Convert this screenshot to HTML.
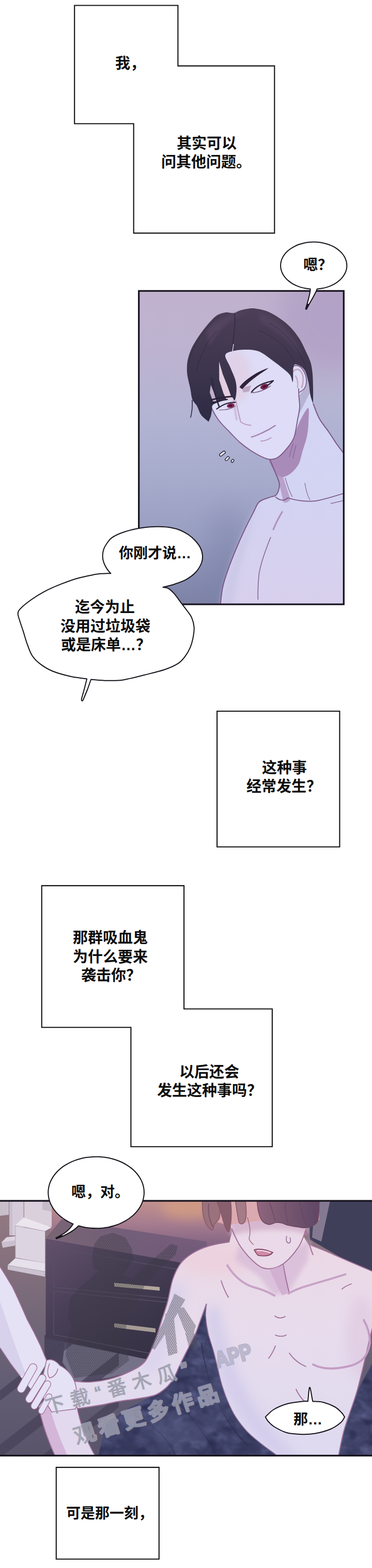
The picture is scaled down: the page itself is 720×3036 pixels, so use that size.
<!DOCTYPE html>
<html><head><meta charset="utf-8"><title>page</title>
<style>html,body{margin:0;padding:0;background:#fff;font-family:"Liberation Sans",sans-serif}svg{display:block}</style></head><body>
<svg width="720" height="3036" viewBox="0 0 720 3036">
<rect width="720" height="3036" fill="#fff"/>
<path fill="#fff" stroke="#111" stroke-width="2.1" stroke-linejoin="miter" d="M144.2 10.5H344.4V127.6H531.3V451.4H258.7V239.5H144.2Z"/>
<path fill="#fff" stroke="#111" stroke-width="2.1" stroke-linejoin="miter" d="M420.1 1377H657.4V1639.7H420.1Z"/>
<path fill="#fff" stroke="#111" stroke-width="2.1" stroke-linejoin="miter" d="M80.75 1714.9H356.1V1953.5H526.9V2220.3H253.4V1989.2H80.75Z"/>
<path fill="#fff" stroke="#111" stroke-width="2.1" stroke-linejoin="miter" d="M108.8 2841.1H307.8V3018.7H108.8Z"/>
<defs>
<clipPath id="c1"><rect x="268" y="562.5" width="398" height="608.5"/></clipPath>
<linearGradient id="p1bg" x1="0" y1="0" x2="0" y2="1">
<stop offset="0" stop-color="#c0b2ce"/><stop offset="0.2" stop-color="#bdb3d0"/><stop offset="0.4" stop-color="#b3b4d3"/><stop offset="0.6" stop-color="#a6abcc"/><stop offset="0.8" stop-color="#979dc0"/><stop offset="0.93" stop-color="#848aae"/><stop offset="1" stop-color="#7c81a5"/></linearGradient>
<linearGradient id="p1hair" x1="0" y1="0" x2="0" y2="1">
<stop offset="0" stop-color="#4c3f57"/><stop offset="0.55" stop-color="#3d354d"/><stop offset="1" stop-color="#2d2a44"/></linearGradient>
<linearGradient id="p1skin" x1="0" y1="0" x2="0" y2="1">
<stop offset="0" stop-color="#d4d5f4"/><stop offset="0.5" stop-color="#d3d3f2"/><stop offset="1" stop-color="#d8d0ec"/></linearGradient>
<filter id="b6" x="-30%" y="-30%" width="160%" height="160%"><feGaussianBlur stdDeviation="6"/></filter>
<filter id="b12" x="-30%" y="-30%" width="160%" height="160%"><feGaussianBlur stdDeviation="12"/></filter>
<filter id="b25" x="-50%" y="-50%" width="200%" height="200%"><feGaussianBlur stdDeviation="25"/></filter>
<filter id="b3" x="-30%" y="-30%" width="160%" height="160%"><feGaussianBlur stdDeviation="3"/></filter>
</defs>
<g clip-path="url(#c1)">
<rect x="266" y="560" width="402" height="613" fill="url(#p1bg)"/>
<ellipse cx="640" cy="610" rx="100" ry="110" fill="#ae9cc3" opacity="0.7" filter="url(#b25)"/>
<ellipse cx="440" cy="1090" rx="40" ry="110" fill="#7a7fa6" opacity="0.45" filter="url(#b25)"/>
<path d="M427 1180C427 1178 426.3 1175.1 427 1167.7C427.7 1160.3 428.8 1146.7 431.3 1135.7C433.8 1124.7 437.6 1113.8 441.9 1101.7C446.1 1089.7 451.5 1076.2 456.8 1063.4C462.1 1050.6 468.1 1037.1 473.8 1025.1C479.5 1013 486.3 1000 490.9 991.1C495.5 982.2 496.6 976.5 501.5 971.9C506.4 967.3 515.4 965.5 520.6 963.4C525.9 961.3 529.9 961.7 533 959.5C536.1 957.3 537.8 954 539 950C540.2 946 541.6 941.2 540.5 935.2C539.4 929.2 535.7 921.9 532.6 914.3C529.5 906.7 523.9 893.5 522.1 889.4L560 840L600 760L606 781.2C608 786 612.8 800.8 617.8 810C622.8 819.2 630.6 828 636.2 836.2C641.8 844.4 646.9 852.8 651.4 859.3C655.9 865.8 658.4 869 663.2 875C668 881 677.2 891.7 680 895L680 1180Z" fill="url(#p1skin)"/>
<path d="M427 1180C432 1120 470 1030 500 975C470 1080 455 1130 450 1180Z" fill="#c9c6e6" opacity="0.8" filter="url(#b6)"/>
<path d="M520.5 889.4C521.4 883.1 535.3 885.6 541.4 881.5C547.5 877.4 552.3 871.3 557.1 864.5C561.9 857.7 566.3 849.1 570.2 840.9C574.1 832.6 576.3 823.5 580.7 815C585.1 806.5 593.7 789.2 596.4 790C599.1 790.8 597.4 810.6 597 820C596.6 829.4 595.6 837.5 593.8 846.2C591.9 854.9 588.5 863.7 585.9 872.4C583.3 881.1 582 891.2 578.1 898.6C574.2 906 568.1 912.5 562.4 916.9C556.7 921.2 548.4 924.3 544 924.7C539.6 925.1 540.1 925.4 536.2 919.5C532.3 913.6 519.6 895.7 520.5 889.4Z" fill="#a98bb9"/>
<path d="M536 920C540 940 546 955 548 972C553 975 560 972 562 966C556 950 552 935 548 924Z" fill="#b59cc6" opacity="0.9"/>
<path d="M427 1180C427 1178 426.3 1175.1 427 1167.7C427.7 1160.3 428.8 1146.7 431.3 1135.7C433.8 1124.7 437.6 1113.8 441.9 1101.7C446.1 1089.7 451.5 1076.2 456.8 1063.4C462.1 1050.6 468.1 1037.1 473.8 1025.1C479.5 1013 486.3 1000 490.9 991.1C495.5 982.2 496.6 976.5 501.5 971.9C506.4 967.3 515.4 965.5 520.6 963.4C525.9 961.3 529.9 961.7 533 959.5C536.1 957.3 537.8 954 539 950C540.2 946 541.6 941.2 540.5 935.2C539.4 929.2 535.7 921.9 532.6 914.3C529.5 906.7 523.9 893.5 522.1 889.4" fill="none" stroke="#7a5686" stroke-width="2"/>
<path d="M606 781.2C608 786 612.8 800.8 617.8 810C622.8 819.2 630.6 828 636.2 836.2C641.8 844.4 646.9 852.8 651.4 859.3C655.9 865.8 658.4 869 663.2 875C668 881 677.2 891.7 680 895" fill="none" stroke="#7a5686" stroke-width="2"/>
<path d="M533 962C540 968 548 972 557 964C570 968 590 973 614.7 969.3C635 965 650 960 666 955" fill="none" stroke="#7a5686" stroke-width="1.8"/>
<path d="M546.2 991.1C538 1005 533 1015 529.1 1025.1" fill="none" stroke="#b08fbb" stroke-width="3" stroke-linecap="round"/>
<path d="M524 1040C515 1062 505 1090 501.5 1110.2C499 1130 499 1150 499.4 1161.3" fill="none" stroke="#7a5686" stroke-width="1.6" opacity="0.85"/>
<path d="M552 925C556 940 560 952 566 962M590 935C592 948 594 958 600 968" fill="none" stroke="#7a5686" stroke-width="1.3" opacity="0.8"/>
<path d="M640 975L666 969" fill="none" stroke="#7a5686" stroke-width="1.5" opacity="0.8"/>
<path d="M568 858C564 868 562 876 560 885M573 862C570 872 568 880 567 888" fill="none" stroke="#7d5a8d" stroke-width="1.2" opacity="0.8"/>
<path d="M433 690C426.3 701.7 424.2 725.8 420 740C415.8 754.2 409.3 765.8 408 775C406.7 784.2 410 789.3 412 795C414 800.7 417.2 804.8 420 809C422.8 813.2 424.1 815.1 428.5 820C432.9 824.9 440.2 832.2 446.2 838.3C452.2 844.4 457.9 851 464.5 856.7C471.1 862.4 478.5 867.8 485.5 872.4C492.5 877 500.3 881.4 506.4 884.2C512.5 887 516.9 889.2 522.1 889.4C527.3 889.6 532.1 889.2 537.8 885.5C543.5 881.8 551 873.6 556.2 867.1C561.5 860.6 566 855.3 569.3 846.2C572.6 837.1 574.1 822.1 575.9 812.6C577.7 803.1 579.4 796.4 579.9 789C580.4 781.6 577.1 774.2 578.6 768.1C580.1 762 586.6 757.2 589 752.4C591.4 747.6 592.8 744.1 593 739.3C593.2 734.5 592.3 728.4 590.3 723.6C588.3 718.8 584.5 713.1 581.2 710.5C577.9 707.9 577.6 711.3 570.7 707.9C563.8 704.5 551.8 696.3 540 690C528.2 683.7 513.3 673.3 500 670C486.7 666.7 471.2 666.7 460 670C448.8 673.3 439.7 678.3 433 690Z" fill="#dedcf6"/>
<ellipse cx="455" cy="730" rx="30" ry="50" fill="#e2c9dc" opacity="0.55" filter="url(#b6)"/>
<path d="M566 722C570 714 578 713 583 720C588 728 588 740 584 750" fill="none" stroke="#c5a9c4" stroke-width="3" stroke-linecap="round"/>
<path d="M572 728C576 734 577 742 576 750" fill="none" stroke="#c5a9c4" stroke-width="2.5" stroke-linecap="round"/>
<path d="M407 783C407.8 785 409.8 790.7 412 795C414.2 799.3 417.2 804.8 420 809C422.8 813.2 424.1 815.1 428.5 820C432.9 824.9 440.2 832.2 446.2 838.3C452.2 844.4 457.9 851 464.5 856.7C471.1 862.4 478.5 867.8 485.5 872.4C492.5 877 500.3 881.4 506.4 884.2C512.5 887 516.9 889.2 522.1 889.4C527.3 889.6 532.1 889.2 537.8 885.5C543.5 881.8 551 873.6 556.2 867.1C561.5 860.6 566 855.3 569.3 846.2C572.6 837.1 574.1 822.1 575.9 812.6C577.7 803.1 579.4 796.4 579.9 789C580.4 781.6 578.9 774.3 578.6 768.1C578.3 761.9 578.1 754.7 578 752" fill="none" stroke="#7a5686" stroke-width="1.8"/>
<path d="M562.8 716.5C564.1 715.1 567.6 708.9 570.7 707.9C573.8 706.9 577.9 707.9 581.2 710.5C584.5 713.1 588.3 718.8 590.3 723.6C592.3 728.4 593.2 734.5 593 739.3C592.8 744.1 591.4 748.9 589 752.4C586.6 755.9 580.3 758.9 578.6 760.2" fill="none" stroke="#7a5686" stroke-width="1.6"/>
<path d="M456.7 776.4C459 790 463 805 465.8 817C472 821 478 823 485.5 823.5" fill="none" stroke="#b79bc0" stroke-width="2" stroke-linecap="round"/>
<path d="M452 775C454 790 456 800 458 812" fill="none" stroke="#cdb6d2" stroke-width="4" stroke-linecap="round" opacity="0.8"/>
<path d="M486.8 846.2C495 844 515 836 532.6 823.9" fill="none" stroke="#a27fae" stroke-width="2.4" stroke-linecap="round"/>
<path d="M505.1 854C512 854 519 851 524.7 847.5" fill="none" stroke="#b495bf" stroke-width="1.8" stroke-linecap="round"/>
<path d="M468 751L486 746L482 758L471 760Z" fill="#b9a0bf" opacity="0.9"/>
<ellipse cx="511.6" cy="748.6" rx="8" ry="5" transform="rotate(-22 511.6 748.6)" fill="#7d2450"/>
<ellipse cx="511.6" cy="748.6" rx="3" ry="2.4" transform="rotate(-22 511.6 748.6)" fill="#4a0f2c"/>
<path d="M486.8 759.4C492 752 503 744 514.3 741.1C520 739.5 525 738 529 737.1C524 742 520 745 516 747" fill="none" stroke="#2d2238" stroke-width="2.4" stroke-linecap="round" stroke-linejoin="round"/>
<path d="M488 760.5C497 760 510 757 524 747" fill="none" stroke="#6d4a6f" stroke-width="1.3"/>
<path d="M463.5 749.5C470 740 482 731 498 721.5C506 717.5 513 714.5 520 712.6C513 717.8 505 722.5 499 727C488 734.5 478 743.5 468.5 753.5Z" fill="#2d2238"/>
<ellipse cx="446.4" cy="785.4" rx="7.3" ry="4.3" transform="rotate(-10 446.4 785.4)" fill="#7d2450"/>
<ellipse cx="446.4" cy="785.4" rx="2.8" ry="2.2" fill="#4a0f2c"/>
<path d="M424 794C434 794 448 792 456 786" fill="none" stroke="#6d4a6f" stroke-width="1.2"/>
<path d="M403.7 816.5C401.3 814.3 393 808.4 389.3 803.4C385.6 798.4 384.2 791.4 381.4 786.4C378.6 781.4 374.5 779 372.3 773.3C370.1 767.6 369.9 760.2 368.3 752.4C366.7 744.5 363.7 733.6 362.6 726.2C361.6 718.8 361.7 713.6 362 708C362.3 702.4 362.9 698.2 364.4 692.6C365.9 687 368.1 680.4 370.9 674.3C373.7 668.2 377.5 662 381.4 655.9C385.3 649.8 390.1 643.3 394.5 637.6C398.9 631.9 403.2 626.5 407.6 621.9C412 617.3 415.9 612.9 420.7 610.1C425.5 607.3 431.2 605.5 436.4 604.9C441.6 604.2 447.3 606.9 452.1 606.2C456.9 605.5 459.5 602.4 465.2 600.9C470.9 599.4 480.4 597.4 486.2 597C492 596.6 495.1 597.4 500 598.3C504.9 599.2 510 600.1 515.7 602.3C521.4 604.5 527.9 607.7 534 611.4C540.1 615.1 546.7 619.7 552.4 624.5C558.1 629.3 563.3 634.5 568.1 640.2C572.9 645.9 577.3 652.1 581.2 658.6C585.1 665.1 588.3 672.5 591.6 679.5C594.9 686.5 598.6 693.4 600.8 700.4C603 707.4 603.8 712.8 604.7 721.4C605.6 730 605.8 742 606 752C606.2 762 606 776.3 606 781.2C605.1 778.6 602.3 772.5 600.8 765.5C599.3 758.5 598.9 747.6 596.9 739.3C594.9 731 592.6 721.2 589 715.7C585.4 710.2 578.5 707 575 706C571.5 705 569.4 704.5 568 710C566.6 715.5 567.9 736.6 566.8 739.3C565.7 742 564.8 730.6 561.5 726.2C558.2 721.8 553 718 547.1 713.1C541.2 708.2 534.1 702.5 526.2 697C518.4 691.5 508.9 683.4 500 680C491.1 676.6 481.2 676.9 473 676.9C464.8 676.9 456.7 677.9 450.5 679.8C444.3 681.6 436.8 682.8 436 688C435.2 693.2 442.4 703 445.6 710.9C448.8 718.8 453.4 728.1 455.4 735.5C457.4 742.9 457.9 748.6 457.8 755.1C457.7 761.6 456.1 772.4 454.6 774.7C453.1 777 451.4 769.5 449 769C446.6 768.5 444 770.5 440 772C436 773.5 429.7 776 425 778C420.3 780 414.5 781.2 412 784C409.5 786.8 410.7 791.3 410 795C409.3 798.7 409.1 802.4 408 806C406.9 809.6 404.4 814.8 403.7 816.5Z" fill="url(#p1hair)"/>
<path d="M400 640C420 615 450 606 480 604C450 615 425 635 405 670Z" fill="#5c4a66" opacity="0.6" filter="url(#b3)"/>
<path d="M500 605C540 615 570 650 585 690C560 660 535 640 505 625Z" fill="#5c4a66" opacity="0.5" filter="url(#b3)"/>
<path d="M424 700L431 724L440.6 748.6L448.8 771.5L439 774.7L432.5 761.7L424.3 735.5Z" fill="#e3cde0"/>
<path d="M408 745L414 760L420 778L412 777L406 760Z" fill="#d9c6dc" opacity="0.85"/>
<path d="M409.5 732C413 752 418 772 424.3 787.8" fill="none" stroke="#2c2946" stroke-width="2.6" stroke-linecap="round"/>
<path d="M372 775C373 790 371 800 369 808" fill="none" stroke="#2c2946" stroke-width="1.6" stroke-linecap="round"/>
<path d="M407.9 774.7C420 771 435 768.5 448 767.7" fill="none" stroke="#2a2136" stroke-width="3" stroke-linecap="round"/>
<path d="M409.5 780.5C420 777 430 775 440 773.4" fill="none" stroke="#2a2136" stroke-width="2.4" stroke-linecap="round"/>
<path d="M419.4 791.9C426 787 432 783.5 439 781.3C445 779.5 450 779 455.4 778.8" fill="none" stroke="#2a2136" stroke-width="2.2" stroke-linecap="round"/>
<path d="M454 607C456 625 453 650 449 676" fill="none" stroke="#2a2138" stroke-width="1.3" opacity="0.8"/>
<path d="M452 666L450 680" stroke="#e8e0f0" stroke-width="1.4"/>
<path d="M366 700C372 670 395 635 425 612M380 720C386 690 400 660 420 640M500 640C530 650 555 672 570 700M520 625C550 640 575 670 590 705" fill="none" stroke="#2a2138" stroke-width="1" opacity="0.55"/>
<rect x="424.0" y="875.8" width="13" height="5" rx="2.5" transform="rotate(-38 430.5 878.3)" fill="#e6e5f4" stroke="#1d1828" stroke-width="1.3"/>
<rect x="435.05" y="885.7" width="9.5" height="4.6" rx="2.3" transform="rotate(-45 439.8 888)" fill="#e6e5f4" stroke="#1d1828" stroke-width="1.3"/>
<rect x="446.85" y="890.3" width="6.5" height="4" rx="2.0" transform="rotate(-60 450.1 892.3)" fill="#e6e5f4" stroke="#1d1828" stroke-width="1.3"/>
</g>
<rect x="268.7" y="563.3" width="396.6" height="606.8" fill="none" stroke="#17121d" stroke-width="3.2"/>
<path fill="#fff" stroke="#15121a" stroke-width="2" stroke-linejoin="round" stroke-linecap="round" d="M600.7 559.6C599.1 559.4 594.3 558.9 591.1 558.3C588 557.8 584.9 557 581.9 556.1C578.9 555.2 576 554.1 573.3 552.9C570.5 551.7 567.9 550.3 565.4 548.8C563 547.3 560.7 545.6 558.6 543.9C556.5 542.2 554.5 540.3 552.8 538.3C551.1 536.4 549.6 534.3 548.3 532.2C547 530.1 546 527.9 545.1 525.6C544.3 523.4 543.8 521.1 543.4 518.8C543.1 516.5 543 514.2 543.2 511.9C543.3 509.6 543.8 507.3 544.4 505C545.1 502.8 546 500.5 547.1 498.4C548.2 496.2 549.6 494.1 551.1 492.1C552.7 490.1 554.5 488.1 556.5 486.3C558.5 484.5 560.7 482.8 563 481.2C565.4 479.6 567.9 478.1 570.6 476.8C573.2 475.5 576 474.3 578.9 473.3C581.8 472.3 584.9 471.4 588 470.7C591.1 470 594.3 469.5 597.4 469.1C600.6 468.8 603.9 468.6 607.1 468.6C610.4 468.6 613.7 468.8 616.9 469.1C620.1 469.5 623.2 470 626.3 470.7C629.4 471.4 632.5 472.2 635.4 473.2C638.3 474.3 641.1 475.4 643.8 476.7C646.4 478.1 649 479.5 651.3 481.1C653.7 482.7 655.9 484.4 657.8 486.2C659.8 488.1 661.6 490 663.2 492C664.8 494 666.2 496.2 667.3 498.3C668.4 500.5 669.3 502.7 670 505C670.6 507.2 671 509.5 671.2 511.8C671.4 514.1 671.3 516.5 671 518.8C670.7 521 670.1 523.3 669.3 525.6C668.5 527.8 667.4 530 666.1 532.1C664.9 534.2 663.4 536.3 661.6 538.3C659.9 540.2 658 542.1 655.9 543.8C653.8 545.6 651.5 547.3 649 548.8C646.6 550.3 643.9 551.6 641.2 552.9C638.5 554.1 635.5 555.2 632.6 556.1C629.6 557 626.5 557.7 623.4 558.3C620.2 558.9 615.4 559.4 613.8 559.6C610 570 600 585 593.2 598.7L591.6 598.2C595 586 600 572 600.7 559.6Z"/>
<path d="M595.5 588L591.5 598.4L593.4 598.9L598 588.5Z" fill="#15121a"/>
<path fill="#fff" stroke="#15121a" stroke-width="2" stroke-linejoin="round" stroke-linecap="round" d="M214.2 1109.9C211.1 1110.1 200.9 1110.4 195.8 1110.8C190.7 1111.2 191.2 1110.8 183.7 1112.3C176.2 1113.8 161.8 1116.4 150.9 1119.5C140 1122.6 129.1 1126.6 118.2 1130.9C107.3 1135.2 95.3 1140.4 85.5 1145.6C75.7 1150.8 67 1156.5 59.3 1162C51.6 1167.5 43.7 1174 39.6 1178.4C35.5 1182.8 35 1184.4 34.7 1188.2C34.4 1192 36.4 1195.8 38 1201.3C39.6 1206.8 42 1213.3 44.5 1220.9C47 1228.5 49.7 1238.9 52.7 1247.1C55.7 1255.3 58.2 1263.5 62.6 1270C67 1276.5 72.4 1281.5 78.9 1286.4C85.4 1291.3 92.5 1295.7 101.8 1299.5C111.1 1303.3 124.8 1307 134.6 1309.3C144.4 1311.6 155.1 1312.8 160.7 1313.6C166.3 1314.4 166.9 1314.3 168.1 1314.4L163.5 1332.7L157.8 1353.3C157.6 1356 158.4 1357.2 159.2 1357C160 1356.8 160.8 1355.6 161.2 1354.5L169.3 1335L176.1 1315.5C178.2 1315.7 182.8 1316.3 188.7 1316.7C194.6 1317.1 203.1 1317.9 211.7 1317.8C220.2 1317.7 228.7 1318 240 1316.2C251.3 1314.4 266.2 1310.3 279.3 1307C292.4 1303.7 307.7 1300.2 318.6 1296.5C329.5 1292.8 338.2 1288.9 344.7 1284.7C351.2 1280.5 353.9 1276.8 357.8 1271.6C361.7 1266.4 365.6 1259.8 368.3 1253.3C371 1246.8 372.9 1239 374.1 1232.4C375.3 1225.9 376.1 1220.1 375.6 1214C375.1 1207.9 373.1 1200.9 370.9 1195.7C368.7 1190.5 365.8 1187.6 362.5 1183C359.2 1178.4 355.2 1173.5 351 1167.9C346.8 1162.3 341.5 1154.4 337.3 1149.6C333.1 1144.8 329.4 1141.4 325.8 1139.3C322.2 1137.2 317.2 1137.4 315.5 1137L260 1120Z"/>
<path fill="#fff" stroke="none" d="M214.2 1109.9C213 1108.6 209.5 1105.3 207.3 1101.9C205.1 1098.5 202.4 1093.5 200.9 1089.3C199.4 1085.1 198.6 1081.1 198.6 1076.7C198.6 1072.3 199.4 1067.1 200.9 1062.9C202.4 1058.7 204.7 1055.1 207.3 1051.5C209.9 1047.9 211.7 1044.4 216.5 1041.1C221.3 1037.8 228.4 1034.3 236 1031.5C243.6 1028.7 253 1026.1 262 1024.2C271 1022.3 282.2 1020.9 290 1020.2C297.8 1019.5 302.1 1019.6 308.8 1019.8C315.5 1020 323.4 1020.4 330 1021.5C336.6 1022.6 342.6 1024.2 348.4 1026.5C354.2 1028.8 360.1 1032.1 365 1035.5C369.9 1038.9 374.2 1042.8 378 1047C381.8 1051.2 385.7 1056.3 388 1061C390.3 1065.7 391.6 1070.2 391.9 1075C392.2 1079.8 392.2 1084.5 390 1090C387.8 1095.5 383.5 1103 378.5 1108.3C373.5 1113.6 367.1 1118.3 360.2 1122.1C353.3 1125.9 344.8 1128.7 337.3 1131.2C329.9 1133.7 319.1 1136 315.5 1137L300 1150L230 1125Z"/>
<path fill="none" stroke="#15121a" stroke-width="2" stroke-linecap="round" stroke-linejoin="round" d="M214.2 1109.9C213 1108.6 209.5 1105.3 207.3 1101.9C205.1 1098.5 202.4 1093.5 200.9 1089.3C199.4 1085.1 198.6 1081.1 198.6 1076.7C198.6 1072.3 199.4 1067.1 200.9 1062.9C202.4 1058.7 204.7 1055.1 207.3 1051.5C209.9 1047.9 211.7 1044.4 216.5 1041.1C221.3 1037.8 228.4 1034.3 236 1031.5C243.6 1028.7 253 1026.1 262 1024.2C271 1022.3 282.2 1020.9 290 1020.2C297.8 1019.5 302.1 1019.6 308.8 1019.8C315.5 1020 323.4 1020.4 330 1021.5C336.6 1022.6 342.6 1024.2 348.4 1026.5C354.2 1028.8 360.1 1032.1 365 1035.5C369.9 1038.9 374.2 1042.8 378 1047C381.8 1051.2 385.7 1056.3 388 1061C390.3 1065.7 391.6 1070.2 391.9 1075C392.2 1079.8 392.2 1084.5 390 1090C387.8 1095.5 383.5 1103 378.5 1108.3C373.5 1113.6 367.1 1118.3 360.2 1122.1C353.3 1125.9 344.8 1128.7 337.3 1131.2C329.9 1133.7 319.1 1136 315.5 1137"/>
<defs>
<clipPath id="c2"><rect x="0" y="2324" width="720" height="495"/></clipPath>
<linearGradient id="p2bg" x1="0" y1="0" x2="0" y2="1">
<stop offset="0" stop-color="#c4938e"/><stop offset="0.3" stop-color="#a77d8f"/><stop offset="0.6" stop-color="#7f6282"/><stop offset="1" stop-color="#6d5878"/></linearGradient>
<linearGradient id="p2floor" x1="0" y1="0" x2="0" y2="1">
<stop offset="0" stop-color="#967c83"/><stop offset="0.25" stop-color="#85707d"/><stop offset="0.5" stop-color="#706677"/><stop offset="0.7" stop-color="#645e74"/><stop offset="1" stop-color="#5a546b"/></linearGradient>
<linearGradient id="p2skin" x1="0" y1="0" x2="0" y2="1">
<stop offset="0" stop-color="#ecd7e3"/><stop offset="0.4" stop-color="#e8dcec"/><stop offset="1" stop-color="#dedaf0"/></linearGradient>
<linearGradient id="p2hair" x1="0" y1="0" x2="1" y2="0">
<stop offset="0" stop-color="#a9787d"/><stop offset="0.24" stop-color="#b98589"/><stop offset="0.3" stop-color="#d9a6a9"/><stop offset="0.44" stop-color="#d09da4"/><stop offset="0.5" stop-color="#8b6379"/><stop offset="0.7" stop-color="#7a5872"/><stop offset="1" stop-color="#5f4866"/></linearGradient>
<linearGradient id="p2top" x1="0" y1="0" x2="1" y2="0">
<stop offset="0" stop-color="#786574"/><stop offset="0.5" stop-color="#735e78"/><stop offset="1" stop-color="#6b5576" stop-opacity="0.6"/></linearGradient>
<linearGradient id="p2hairD" x1="0" y1="0" x2="1" y2="0"><stop offset="0" stop-color="#8f667c"/><stop offset="0.4" stop-color="#7a5872"/><stop offset="1" stop-color="#5f4866"/></linearGradient>
<linearGradient id="p2cab" x1="0" y1="0" x2="0.8" y2="1">
<stop offset="0" stop-color="#64516b"/><stop offset="0.35" stop-color="#4b4159"/><stop offset="0.7" stop-color="#3a3548"/><stop offset="1" stop-color="#312d40"/></linearGradient>
<filter id="mott" x="0" y="0" width="100%" height="100%" color-interpolation-filters="sRGB">
<feTurbulence type="fractalNoise" baseFrequency="0.03 0.045" numOctaves="3" seed="7" result="n"/>
<feColorMatrix in="n" type="matrix" values="0 0 0 0 0.37  0 0 0 0 0.39  0 0 0 0 0.56  2.2 0 0 0 -0.95" result="c"/>
<feComposite in="c" in2="SourceGraphic" operator="in"/></filter>
<filter id="mottd" x="0" y="0" width="100%" height="100%" color-interpolation-filters="sRGB">
<feTurbulence type="fractalNoise" baseFrequency="0.04 0.05" numOctaves="2" seed="21" result="n"/>
<feColorMatrix in="n" type="matrix" values="0 0 0 0 0.16  0 0 0 0 0.17  0 0 0 0 0.30  2.4 0 0 0 -1.1" result="c"/>
<feComposite in="c" in2="SourceGraphic" operator="in"/></filter>
<filter id="q4" x="-30%" y="-30%" width="160%" height="160%"><feGaussianBlur stdDeviation="4"/></filter>
<filter id="q10" x="-30%" y="-30%" width="160%" height="160%"><feGaussianBlur stdDeviation="10"/></filter>
<filter id="q20" x="-50%" y="-50%" width="200%" height="200%"><feGaussianBlur stdDeviation="20"/></filter>
</defs>
<g clip-path="url(#c2)">
<rect x="0" y="2320" width="720" height="500" fill="url(#p2floor)"/>
<path d="M96 2320H470V2480H300L96 2400Z" fill="url(#p2bg)"/>
<ellipse cx="365" cy="2338" rx="55" ry="22" fill="#d79f80" opacity="0.7" filter="url(#q10)"/>
<path d="M596 2320H720V2470L600 2400Z" fill="#3f3f5a"/>
<path d="M610 2320H640L622 2404L604 2396Z" fill="#8d8098" opacity="0.9"/>
<path d="M0 2326H17V2352L0 2354Z" fill="#c9bfca"/>
<path d="M18 2326H45.7V2392H18Z" fill="#d6cbd8"/>
<path d="M18 2326H24V2392H18Z" fill="#c4b8c8" opacity="0.7"/>
<path d="M3.2 2405L12.8 2395.5L29.8 2393.4V2411.5L5.3 2415.7Z" fill="#ddd4e0"/>
<path d="M3.2 2405L29.8 2401.5V2411.5L5.3 2415.7Z" fill="#c9bfce"/>
<path d="M46.8 2326H100V2375.3L46.8 2369Z" fill="#dad0dc"/>
<path d="M82 2326H100V2346L82 2342Z" fill="#c6bbc9"/>
<path d="M29.8 2372.1L45.7 2357.2L100 2376.4L87.2 2383.8Z" fill="#ebe5ee"/>
<path d="M29.8 2373.2L87.2 2383.8V2445.5L29.8 2434.9Z" fill="#dcd4e0"/>
<path d="M14.9 2449.8L29.8 2436L87.2 2445.5V2462Z" fill="#e6e0ea"/>
<path d="M14.9 2449.8L87.2 2462V2472.1L14.9 2458.3Z" fill="#cbc2d0"/>
<path d="M29.8 2373.2L87.2 2383.8M29.8 2373.2V2434.9M14.9 2449.8L87.2 2462" stroke="#a99db0" stroke-width="0.9" fill="none" opacity="0.8"/>
<path d="M86 2585H330V2700H86Z" fill="#4a455c"/>
<path d="M125.3 2599.6L282.8 2631.5L300 2640L278.5 2650L210.4 2667.7L146.6 2676.2L121 2637.9Z" fill="#757189"/>
<path d="M-10 2805L230 2617.8L230 2643.8L-10 2831Z" fill="#48435a" opacity="0.8"/>
<path d="M-10 2700L140 2583.0L140 2603.0L-10 2720Z" fill="#48435a" opacity="0.8"/>
<path d="M-10 2600L42 2559.4L42 2573.4L-10 2614Z" fill="#48435a" opacity="0.8"/>
<path d="M60 2835L230 2702.4L230 2724.4L60 2857Z" fill="#48435a" opacity="0.8"/>
<path d="M88.8 2397L119 2361L400 2404V2456L340 2443Z" fill="url(#p2top)"/>
<path d="M88.8 2398L340 2443L400 2455V2660L283 2631.5L125 2597.4L88.4 2592Z" fill="url(#p2cab)"/>
<path d="M104 2416L390 2466V2520L104 2492Z M104 2500L390 2528V2640L104 2584Z" fill="none" stroke="#565068" stroke-width="1.5"/>
<path d="M221 2483.8L309 2492V2499L221 2491Z" fill="#b1a79c"/>
<path d="M221 2562L301 2572V2580L221 2570Z" fill="#a59c96"/>
<path d="M190 2820L205 2756L250 2726L318 2690L401 2520L470 2600L520 2760L560 2820Z" fill="#404368"/>
<path d="M720 2640L690 2697L666 2768L655 2820H720Z" fill="#404368"/>
<path d="M190 2820L205 2756L250 2726L318 2690L401 2520L470 2600L520 2760L560 2820Z M720 2640L690 2697L666 2768L655 2820H720Z" fill="#000" filter="url(#mott)"/>
<path d="M190 2820L205 2756L250 2726L318 2690L401 2520L470 2600L520 2760L560 2820Z M720 2640L690 2697L666 2768L655 2820H720Z" fill="#000" filter="url(#mottd)"/>
<path d="M260 2740C300 2760 330 2790 340 2820M330 2700C370 2740 400 2780 420 2820M390 2600C400 2680 430 2750 480 2800" fill="none" stroke="#2c2d4c" stroke-width="2" opacity="0.7"/>
<ellipse cx="330" cy="2770" rx="70" ry="30" fill="#51547c" opacity="0.55" filter="url(#q10)"/>
<ellipse cx="420" cy="2700" rx="25" ry="60" fill="#51547c" opacity="0.45" filter="url(#q10)"/>
<ellipse cx="260" cy="2800" rx="50" ry="20" fill="#2f3152" opacity="0.5" filter="url(#q10)"/>
<ellipse cx="470" cy="2800" rx="40" ry="20" fill="#2f3152" opacity="0.5" filter="url(#q10)"/>
<clipPath id="c2body"><path d="M399.6 2524.5C399.3 2528.6 397.4 2539.4 398 2549C398.6 2558.6 400.4 2570.9 402.9 2581.8C405.3 2592.7 409.7 2603.7 412.7 2614.6C415.7 2625.5 418.2 2636.4 420.9 2647.3C423.6 2658.2 425.7 2669.1 429 2680C432.3 2690.9 436.2 2702.4 440.6 2712.8C445 2723.2 449 2732.4 455.3 2742.2C461.6 2752 470 2763 478.2 2771.7C486.4 2780.4 495.7 2787.5 504.4 2794.6C513.1 2801.7 524.7 2809.6 530.6 2814.2C536.5 2818.8 538.4 2820.7 540 2822L654.6 2822C656.6 2813 660.5 2788.6 666.4 2767.8C672.3 2747 683.1 2720.6 690 2697C696.9 2673.4 703.4 2644.2 707.7 2626.4C712 2608.6 713.3 2601.1 716 2590C718.7 2578.9 722.7 2565 724 2560L724 2463C715.4 2459.3 688.8 2447.9 672.3 2440.8C655.8 2433.7 638 2425.6 625.2 2420.2C612.4 2414.8 600.6 2410.4 595.7 2408.4L580 2380L450 2380L444.2 2404.4C437.7 2405.7 416.8 2408.7 405 2412.3C393.2 2415.9 382.7 2420.4 373.5 2426C364.3 2431.6 356.5 2437.2 350 2445.7C343.5 2454.2 338.6 2464.6 334.3 2477C330 2489.4 327.7 2507.7 324.4 2520C321.1 2532.3 318.9 2538 314.6 2551C310.4 2564 304.8 2583.8 298.9 2598.2C293 2612.6 288.1 2627.5 279.3 2637.5C270.5 2647.5 257.6 2652.5 246 2658C234.4 2663.5 222 2667.6 210 2670.6C198 2673.6 185.4 2675.4 174 2676C162.6 2676.6 147 2674.5 141.6 2674.2L144.4 2727C146.3 2726.9 148.1 2727.4 156 2726.4C163.9 2725.4 180 2723.1 192 2721C204 2718.9 216 2715.9 228 2713.8C240 2711.7 252 2710.5 264 2708.4C276 2706.3 290.4 2704.8 300 2701.2C309.6 2697.6 315.7 2692.2 321.7 2686.8C327.7 2681.4 331.6 2676.2 336 2668.8C340.4 2661.4 343.9 2651.8 348.4 2642.5C352.9 2633.2 358.2 2622.8 363.1 2613C368 2603.2 374 2592.4 377.9 2583.6C381.8 2574.8 383.1 2569.8 386.7 2560C390.3 2550.2 397.5 2530.4 399.6 2524.5Z"/></clipPath>
<path d="M399.6 2524.5C399.3 2528.6 397.4 2539.4 398 2549C398.6 2558.6 400.4 2570.9 402.9 2581.8C405.3 2592.7 409.7 2603.7 412.7 2614.6C415.7 2625.5 418.2 2636.4 420.9 2647.3C423.6 2658.2 425.7 2669.1 429 2680C432.3 2690.9 436.2 2702.4 440.6 2712.8C445 2723.2 449 2732.4 455.3 2742.2C461.6 2752 470 2763 478.2 2771.7C486.4 2780.4 495.7 2787.5 504.4 2794.6C513.1 2801.7 524.7 2809.6 530.6 2814.2C536.5 2818.8 538.4 2820.7 540 2822L654.6 2822C656.6 2813 660.5 2788.6 666.4 2767.8C672.3 2747 683.1 2720.6 690 2697C696.9 2673.4 703.4 2644.2 707.7 2626.4C712 2608.6 713.3 2601.1 716 2590C718.7 2578.9 722.7 2565 724 2560L724 2463C715.4 2459.3 688.8 2447.9 672.3 2440.8C655.8 2433.7 638 2425.6 625.2 2420.2C612.4 2414.8 600.6 2410.4 595.7 2408.4L580 2380L450 2380L444.2 2404.4C437.7 2405.7 416.8 2408.7 405 2412.3C393.2 2415.9 382.7 2420.4 373.5 2426C364.3 2431.6 356.5 2437.2 350 2445.7C343.5 2454.2 338.6 2464.6 334.3 2477C330 2489.4 327.7 2507.7 324.4 2520C321.1 2532.3 318.9 2538 314.6 2551C310.4 2564 304.8 2583.8 298.9 2598.2C293 2612.6 288.1 2627.5 279.3 2637.5C270.5 2647.5 257.6 2652.5 246 2658C234.4 2663.5 222 2667.6 210 2670.6C198 2673.6 185.4 2675.4 174 2676C162.6 2676.6 147 2674.5 141.6 2674.2L144.4 2727C146.3 2726.9 148.1 2727.4 156 2726.4C163.9 2725.4 180 2723.1 192 2721C204 2718.9 216 2715.9 228 2713.8C240 2711.7 252 2710.5 264 2708.4C276 2706.3 290.4 2704.8 300 2701.2C309.6 2697.6 315.7 2692.2 321.7 2686.8C327.7 2681.4 331.6 2676.2 336 2668.8C340.4 2661.4 343.9 2651.8 348.4 2642.5C352.9 2633.2 358.2 2622.8 363.1 2613C368 2603.2 374 2592.4 377.9 2583.6C381.8 2574.8 383.1 2569.8 386.7 2560C390.3 2550.2 397.5 2530.4 399.6 2524.5Z" fill="url(#p2skin)"/>
<g clip-path="url(#c2body)">
<ellipse cx="420" cy="2440" rx="70" ry="30" fill="#ecd0dc" opacity="0.8" filter="url(#q10)"/>
<ellipse cx="700" cy="2590" rx="30" ry="80" fill="#dcc0da" opacity="0.45" filter="url(#q10)"/>
<path d="M400 2530C398 2580 420 2660 450 2720C480 2770 510 2800 540 2822L580 2822C540 2790 500 2740 470 2680C445 2630 430 2580 425 2530Z" fill="#cfc9ea" opacity="0.75" filter="url(#q10)"/>
<path d="M330 2480C318 2540 300 2600 270 2650L300 2660C330 2610 352 2550 362 2490Z" fill="#d6d0ee" opacity="0.7" filter="url(#q10)"/>
</g>
<path d="M444.2 2404.4C437.7 2405.7 416.8 2408.7 405 2412.3C393.2 2415.9 382.7 2420.4 373.5 2426C364.3 2431.6 356.5 2437.2 350 2445.7C343.5 2454.2 338.6 2464.6 334.3 2477C330 2489.4 327.7 2507.7 324.4 2520C321.1 2532.3 318.9 2538 314.6 2551C310.4 2564 304.8 2583.8 298.9 2598.2C293 2612.6 288.1 2627.5 279.3 2637.5C270.5 2647.5 257.6 2652.5 246 2658C234.4 2663.5 222 2667.6 210 2670.6C198 2673.6 185.4 2675.4 174 2676C162.6 2676.6 147 2674.5 141.6 2674.2" fill="none" stroke="#a06f98" stroke-width="2"/>
<path d="M144.4 2727C146.3 2726.9 148.1 2727.4 156 2726.4C163.9 2725.4 180 2723.1 192 2721C204 2718.9 216 2715.9 228 2713.8C240 2711.7 252 2710.5 264 2708.4C276 2706.3 290.4 2704.8 300 2701.2C309.6 2697.6 315.7 2692.2 321.7 2686.8C327.7 2681.4 331.6 2676.2 336 2668.8C340.4 2661.4 343.9 2651.8 348.4 2642.5C352.9 2633.2 358.2 2622.8 363.1 2613C368 2603.2 374 2592.4 377.9 2583.6C381.8 2574.8 383.1 2569.8 386.7 2560C390.3 2550.2 397.5 2530.4 399.6 2524.5" fill="none" stroke="#a06f98" stroke-width="2"/>
<path d="M399.6 2524.5C399.3 2528.6 397.4 2539.4 398 2549C398.6 2558.6 400.4 2570.9 402.9 2581.8C405.3 2592.7 409.7 2603.7 412.7 2614.6C415.7 2625.5 418.2 2636.4 420.9 2647.3C423.6 2658.2 425.7 2669.1 429 2680C432.3 2690.9 436.2 2702.4 440.6 2712.8C445 2723.2 449 2732.4 455.3 2742.2C461.6 2752 470 2763 478.2 2771.7C486.4 2780.4 495.7 2787.5 504.4 2794.6C513.1 2801.7 524.7 2809.6 530.6 2814.2C536.5 2818.8 538.4 2820.7 540 2822" fill="none" stroke="#8c6a96" stroke-width="1.6"/>
<path d="M654.6 2822C656.6 2813 660.5 2788.6 666.4 2767.8C672.3 2747 683.1 2720.6 690 2697C696.9 2673.4 703.4 2644.2 707.7 2626.4C712 2608.6 713.3 2601.1 716 2590C718.7 2578.9 722.7 2565 724 2560" fill="none" stroke="#a06f98" stroke-width="2"/>
<path d="M724 2463C715.4 2459.3 688.8 2447.9 672.3 2440.8C655.8 2433.7 638 2425.6 625.2 2420.2C612.4 2414.8 600.6 2410.4 595.7 2408.4" fill="none" stroke="#a06f98" stroke-width="2"/>
<path d="M462 2410L519 2458L580 2412L600 2400L596 2440L560 2500L530 2508L500 2470L455 2440Z" fill="#d9bdd9" opacity="0.85" filter="url(#q4)"/>
<path d="M446 2372C444.9 2376 445.1 2371.9 448.4 2379C451.7 2386.1 458.1 2403 466 2414.3C473.9 2425.6 486.7 2439.6 495.5 2446.7C504.3 2453.8 510.1 2456.7 519 2456.7C527.9 2456.7 538.8 2453.8 548.6 2446.7C558.4 2439.6 570.6 2425.6 578 2414.3C585.4 2403 590.1 2388.1 592.8 2379C595.5 2369.9 599.5 2364.8 594 2360C588.5 2355.2 575.7 2351.7 560 2350C544.3 2348.3 517.5 2349.2 500 2350C482.5 2350.8 464 2351.3 455 2355C446 2358.7 447.1 2368 446 2372Z" fill="#ead9e8"/>
<path d="M446 2350H596V2390C560 2378 500 2378 446 2392Z" fill="#d3b2cb" opacity="0.85" filter="url(#q4)"/>
<path d="M448.4 2379C451.3 2384.9 458.1 2403 466 2414.3C473.9 2425.6 486.7 2439.6 495.5 2446.7C504.3 2453.8 510.1 2456.7 519 2456.7C527.9 2456.7 538.8 2453.8 548.6 2446.7C558.4 2439.6 570.6 2425.6 578 2414.3C585.4 2403 590.3 2384.9 592.8 2379" fill="none" stroke="#a06f98" stroke-width="2"/>
<path d="M592 2382C596 2400 600 2416 606 2430M548 2448C552 2470 556 2490 560 2504" fill="none" stroke="#a06f98" stroke-width="2"/>
<path d="M522 2458C530 2476 538 2494 546 2508L558 2504C554 2486 550 2468 548 2450Z" fill="#cfaed0" opacity="0.9"/>
<path d="M492 2420C500 2417 515 2419 528 2425C524 2431 514 2433 500 2431C496 2428 494 2424 492 2420Z" fill="#cf8aa6" stroke="#7a3f62" stroke-width="1.6"/>
<path d="M497 2421.5C505 2420.5 515 2422 524 2425.5" stroke="#f3e6ee" stroke-width="2" fill="none"/>
<path d="M555 2393C553 2400 554 2406 559 2407C563 2406 563 2400 561 2396" fill="none" stroke="#8f6a95" stroke-width="1.5"/>
<path d="M440 2450C452 2470 470 2486 490 2492C505 2496 520 2502 531 2508.5" fill="none" stroke="#c7a2c6" stroke-width="4" stroke-linecap="round"/>
<path d="M558.6 2504.6C575 2494 597.8 2488.9 637.1 2477.1C650 2473 660 2470 668.5 2467.3" fill="none" stroke="#c7a2c6" stroke-width="4" stroke-linecap="round"/>
<path d="M428 2480C432 2492 436 2502 442 2512M662 2496C668 2490 674 2488 680 2486" fill="none" stroke="#a06f98" stroke-width="1.8" stroke-linecap="round"/>
<path d="M532 2548C538 2553 546 2553 552 2549M533 2585C540 2588 548 2588 554 2585M520 2630C526 2622 530 2614 533 2606M560 2620C568 2632 578 2640 592 2646M573 2690C580 2705 590 2716 602 2722" fill="none" stroke="#a06f98" stroke-width="1.8" stroke-linecap="round"/>
<path d="M606 2642C625 2652 650 2652 680 2644C700 2638 712 2626 716 2600C716 2580 710 2566 704 2556" fill="none" stroke="#c39cc4" stroke-width="4" stroke-linecap="round"/>
<path d="M393 2326H618V2362L560 2366L500 2364L470 2368L440 2372L420 2366Z" fill="#dba9b0"/>
<path d="M391.5 2326C391.7 2330.2 391.4 2343.7 392.9 2351.4C394.4 2359.1 397.6 2367.4 400.7 2372.4C403.8 2377.4 408.8 2381.9 411.2 2381.5C413.6 2381.1 412.9 2373.4 415.1 2369.7C417.3 2366 422.5 2364.2 424.3 2359.3C426.1 2354.4 426 2345.6 426 2340C426 2334.4 424.6 2328.3 424.3 2326L424.3 2320L391.5 2320Z" fill="#9a727c" stroke="#8a5468" stroke-width="1.4"/>
<path d="M420 2326C421.1 2329.4 424.4 2338.5 426.9 2346.2C429.3 2353.9 432.1 2365.8 434.7 2372.4C437.3 2379 440.6 2385.9 442.6 2385.5C444.6 2385.1 445.6 2376.2 446.5 2369.7C447.4 2363.1 447.8 2353.5 447.8 2346.2C447.8 2338.9 446.7 2329.4 446.5 2326L446.5 2320L420 2320Z" fill="#875f6d" stroke="#8a5468" stroke-width="1.4"/>
<path d="M455.7 2326C456.4 2330.2 458.3 2344.3 459.6 2351.4C460.9 2358.5 461.4 2365.8 463.6 2368.4C465.8 2371 470.5 2369.9 472.7 2367.1C474.9 2364.3 476.2 2358.2 476.6 2351.4C477 2344.6 475.5 2330.2 475.3 2326L475.3 2320L455.7 2320Z" fill="#a47b87" stroke="#8a5468" stroke-width="1.4"/>
<path d="M497.6 2326C498 2329.4 498.4 2339.8 500.2 2346.2C501.9 2352.6 504.6 2360.4 508.1 2364.5C511.6 2368.6 516.8 2370.6 521.2 2371C525.6 2371.4 530.3 2367.6 534.3 2367.1C538.3 2366.6 541.4 2367.2 545 2368C548.6 2368.8 551 2370.8 556 2372C561 2373.2 569 2374.6 575 2375.5C581 2376.4 586.5 2378 592 2377.4C597.5 2376.8 604 2374.9 608 2372C612 2369.1 614.3 2367.7 616 2360C617.7 2352.3 617.7 2331.7 618 2326L618 2320L497.6 2320Z" fill="url(#p2hairD)" stroke="#6e4660" stroke-width="1.4"/>
<path d="M404 2330C402 2348 406 2364 412 2376M522 2328C526 2342 530 2354 533 2364M552 2328C552 2346 554 2360 558 2370M580 2328C584 2346 588 2362 594 2376M604 2328C610 2344 612 2358 610 2370" fill="none" stroke="#6a4560" stroke-width="1.5" opacity="0.8"/>
<path d="M479 2357C483 2372 486 2385 482 2398C484 2404 488 2408 491 2410" fill="none" stroke="#9a6c80" stroke-width="1.4"/>
<path d="M75 2724C82 2760 94 2792 108 2822H186C168 2792 152 2756 144 2690L100 2690Z" fill="#e2d9ee"/>
<path d="M75 2724C82 2760 94 2792 108 2822H132C118 2790 104 2756 96 2722Z" fill="#cfa9d2" opacity="0.75"/>
<path d="M75 2724C82 2760 94 2792 108 2822M144 2690C150 2750 168 2792 186 2822" fill="none" stroke="#a06f98" stroke-width="1.8"/>
<path d="M0 2452.6C10 2468 18 2482 23.6 2490.9C36 2516 46 2540 53 2555.7C62 2572 72 2592 78.6 2606.2L92 2636L60 2690L39.3 2665.1L19.6 2638.9L0 2609.5Z" fill="#e6e2f5"/>
<path d="M0 2520C14 2560 30 2610 50 2660L39.3 2665.1L19.6 2638.9L0 2609.5Z" fill="#d3cdea" opacity="0.8"/>
<path d="M0 2452.6C10 2468 18 2482 23.6 2490.9C36 2516 46 2540 53 2555.7C62 2572 72 2592 78.6 2606.2L90 2634M0 2609.5L19.6 2638.9L39.3 2665.1" fill="none" stroke="#a06f98" stroke-width="1.6"/>
<path d="M90 2634C98 2630 108 2634 116 2644C128 2650 140 2660 146 2680C150 2700 150 2716 146 2728L100 2734L80 2700L84 2660Z" fill="#e6e2f5" stroke="#a06f98" stroke-width="1.5"/>
<path d="M95 2704.4L80 2732" stroke="#a06f98" stroke-width="12.6" stroke-linecap="round"/>
<path d="M95 2704.4L80 2732" stroke="#e6e2f5" stroke-width="10" stroke-linecap="round"/>
<path d="M91.7 2680L66.5 2722" stroke="#a06f98" stroke-width="14.6" stroke-linecap="round"/>
<path d="M91.7 2680L66.5 2722" stroke="#e6e2f5" stroke-width="12" stroke-linecap="round"/>
<path d="M81.8 2668.4L56.6 2708.9" stroke="#a06f98" stroke-width="15.6" stroke-linecap="round"/>
<path d="M81.8 2668.4L56.6 2708.9" stroke="#e6e2f5" stroke-width="13" stroke-linecap="round"/>
<path d="M64 2648L41 2689" stroke="#a06f98" stroke-width="16.6" stroke-linecap="round"/>
<path d="M64 2648L41 2689" stroke="#e6e2f5" stroke-width="14" stroke-linecap="round"/>
<path d="M96 2640C92 2650 90 2660 96 2668C104 2666 110 2660 112 2650" fill="#e6e2f5" stroke="#a06f98" stroke-width="1.4"/>
<defs><pattern id="dots" width="3.6" height="6.24" patternUnits="userSpaceOnUse"><circle cx="0.9" cy="1.56" r="1.3" fill="#3a3744"/><circle cx="2.7" cy="4.68" r="1.3" fill="#3a3744"/></pattern></defs>
<path d="M182.3 2408.3L195.1 2393.4L218.5 2387L241.9 2395.5L254.7 2416.8L258.9 2438.1L250.4 2450.9L237.7 2467.9L254.7 2476.4L301.5 2433.8L331.3 2408.3L344 2412.6L339.8 2429.6L310 2455.1L280.2 2489.1L267.4 2514.7L250.4 2548.7L237.7 2591.3L250.4 2633.8L216.4 2659.4L144 2667.9L127 2625.3L131.3 2591.3L139.8 2570L131.3 2548.7L135.5 2514.7L152.6 2493.4L173.8 2476.4L190.9 2461.5L180.2 2455.1L178.1 2433.8Z" fill="url(#dots)" opacity="0.6"/>
<path d="M182.3 2408.3L195.1 2393.4L218.5 2387L241.9 2395.5L254.7 2416.8L258.9 2438.1L250.4 2450.9L237.7 2467.9L254.7 2476.4L301.5 2433.8L331.3 2408.3L344 2412.6L339.8 2429.6L310 2455.1L280.2 2489.1L267.4 2514.7L250.4 2548.7L237.7 2591.3L250.4 2633.8L216.4 2659.4L144 2667.9L127 2625.3L131.3 2591.3L139.8 2570L131.3 2548.7L135.5 2514.7L152.6 2493.4L173.8 2476.4L190.9 2461.5L180.2 2455.1L178.1 2433.8Z" fill="#3a3744" opacity="0.12"/>
<path d="M337.8 2504.7L358.4 2516.5L326 2572.5L299.5 2613.7L290.6 2607.9L314.2 2563.7Z M320.1 2543L336.3 2548.9L343.7 2619.6L326 2625.5L318.6 2578.4Z M340.7 2534.2L355.4 2531.2L379 2566.6L373.1 2587.2L358.4 2578.4Z M358.4 2581.3L373.1 2572.5L384.9 2607.9L367.2 2613.7Z" fill="url(#dots)" opacity="0.55"/>
<path d="M337.8 2504.7L358.4 2516.5L326 2572.5L299.5 2613.7L290.6 2607.9L314.2 2563.7Z M320.1 2543L336.3 2548.9L343.7 2619.6L326 2625.5L318.6 2578.4Z M340.7 2534.2L355.4 2531.2L379 2566.6L373.1 2587.2L358.4 2578.4Z M358.4 2581.3L373.1 2572.5L384.9 2607.9L367.2 2613.7Z" fill="#5d5d6b" opacity="0.2"/>
</g>
<rect x="-3" y="2325.1" width="726" height="493.3" fill="none" stroke="#17121d" stroke-width="3.3"/>
<g font-family="'Liberation Sans','Noto Sans CJK SC',sans-serif" stroke-linejoin="round">
<text transform="translate(93 2738) rotate(-15.5)" font-size="37" textLength="284" lengthAdjust="spacing" fill="#9496a8" fill-opacity="0.7" stroke="#dcdae6" stroke-opacity="0.5" stroke-width="4.4" paint-order="stroke">下载“番木瓜”</text>
<text transform="translate(93 2738) rotate(-15.5)" font-size="37" textLength="284" lengthAdjust="spacing" fill="none" stroke="#8c8ea0" stroke-opacity="0.65" stroke-width="1.2">下载“番木瓜”</text>
<text transform="translate(148 2797) rotate(-17.5)" font-size="42" textLength="291" lengthAdjust="spacing" fill="#9496a8" fill-opacity="0.7" stroke="#dcdae6" stroke-opacity="0.5" stroke-width="4.4" paint-order="stroke">观看更多作品</text>
<text transform="translate(148 2797) rotate(-17.5)" font-size="42" textLength="291" lengthAdjust="spacing" fill="none" stroke="#8c8ea0" stroke-opacity="0.65" stroke-width="1.2">观看更多作品</text>
<text transform="translate(421 2649) rotate(-15.5)" font-size="44" font-weight="bold" textLength="72" lengthAdjust="spacingAndGlyphs" fill="#b5b2ca" fill-opacity="0.8" stroke="#8d8aa6" stroke-opacity="0.75" stroke-width="3" paint-order="stroke">APP</text>
<text transform="translate(421 2649) rotate(-15.5)" font-size="44" font-weight="bold" textLength="72" lengthAdjust="spacingAndGlyphs" fill="none" stroke="#e6e2f0" stroke-opacity="0.6" stroke-width="0.9">APP</text>
</g>
<path fill="#fff" stroke="#15121a" stroke-width="2" stroke-linejoin="round" stroke-linecap="round" d="M141.5 2369.8C139.8 2369 134.7 2366.8 131.5 2365C128.3 2363.3 125.2 2361.4 122.3 2359.3C119.4 2357.3 116.7 2355.1 114.2 2352.8C111.7 2350.5 109.4 2348.1 107.3 2345.6C105.2 2343.1 103.3 2340.5 101.7 2337.8C100 2335.1 98.6 2332.3 97.4 2329.5C96.3 2326.6 95.3 2323.7 94.7 2320.8C94 2317.9 93.6 2314.9 93.4 2312C93.2 2309 93.3 2306 93.6 2303.1C94 2300.2 94.6 2297.2 95.4 2294.3C96.2 2291.4 97.3 2288.6 98.7 2285.8C100 2283 101.6 2280.2 103.4 2277.6C105.2 2275 107.2 2272.4 109.4 2270C111.7 2267.5 114.1 2265.2 116.7 2263C119.4 2260.7 122.2 2258.6 125.2 2256.7C128.2 2254.8 131.4 2253 134.7 2251.3C138 2249.7 141.4 2248.2 145 2246.9C148.5 2245.6 152.2 2244.4 155.9 2243.5C159.7 2242.5 163.5 2241.7 167.4 2241.1C171.3 2240.5 175.3 2240.1 179.2 2239.9C183.2 2239.7 187.1 2239.6 191.1 2239.8C195.1 2240 199 2240.3 202.9 2240.8C206.8 2241.4 210.7 2242.1 214.5 2243C218.2 2243.9 221.9 2245 225.5 2246.3C229.1 2247.5 232.6 2249 236 2250.5C239.3 2252.1 242.5 2253.9 245.6 2255.8C248.6 2257.7 251.5 2259.7 254.2 2261.9C256.9 2264.1 259.4 2266.4 261.7 2268.8C264 2271.2 266.1 2273.7 268 2276.4C269.8 2279 271.5 2281.7 272.9 2284.4C274.3 2287.2 275.5 2290.1 276.4 2292.9C277.3 2295.8 278 2298.8 278.4 2301.7C278.8 2304.6 279 2307.6 278.9 2310.6C278.8 2313.5 278.4 2316.5 277.8 2319.4C277.2 2322.3 276.4 2325.3 275.3 2328.1C274.2 2330.9 272.9 2333.8 271.3 2336.5C269.7 2339.2 267.9 2341.8 265.9 2344.4C263.9 2346.9 261.6 2349.4 259.2 2351.7C256.7 2354 254.1 2356.3 251.3 2358.3C248.4 2360.4 245.4 2362.4 242.3 2364.2C239.1 2366 235.8 2367.6 232.4 2369.1C228.9 2370.6 225.3 2371.9 221.7 2373C218 2374.1 214.2 2375.1 210.4 2375.9C206.6 2376.7 202.7 2377.2 198.8 2377.7C194.8 2378.1 190.9 2378.3 186.9 2378.3C182.9 2378.3 178.9 2378.2 175 2377.8C171.1 2377.5 167.2 2376.9 163.3 2376.2C159.5 2375.5 153.9 2373.9 152 2373.5C140 2386 124 2393 109 2398.3L108.4 2396.9C122 2390 134 2383 141.5 2369.8Z"/>
<path d="M120 2391L108.2 2396.6L109 2398.6L121.5 2393.5Z" fill="#15121a"/>
<path fill="#fff" stroke="#15121a" stroke-width="2" stroke-linejoin="round" stroke-linecap="round" d="M513.7 2743.5C516.4 2741.1 523 2733.2 530 2729C537 2724.8 546.8 2720.6 556 2718C565.2 2715.4 578.4 2714.3 585 2713.5C591.6 2712.7 594.1 2713.2 595.9 2713.2C597 2704 597.5 2692 599 2686.5L600 2686.5C602 2692 603 2704 605.4 2713.4C608.7 2713.7 617.9 2713.2 625 2715C632.1 2716.8 642 2720.7 648 2724C654 2727.3 657.8 2731.8 661 2735C664.2 2738.2 666 2742.1 667 2743.5C665.8 2745.2 664.5 2750.1 660 2754C655.5 2757.9 648.3 2763.4 640 2767C631.7 2770.6 619.2 2773.8 610 2775.5C600.8 2777.2 594.2 2777.4 585 2777.2C575.8 2776.9 564.2 2776.5 555 2774C545.8 2771.5 536 2765.7 530 2762C524 2758.3 521.7 2755.1 519 2752C516.3 2748.9 514.6 2744.9 513.7 2743.5Z"/>
<g font-family="'Liberation Sans','Noto Sans CJK SC',sans-serif" font-size="29" font-weight="bold" fill="#0d0d0d">
<text x="223" y="133">我，</text>
<text x="342" y="288">其实可以</text>
<text x="312" y="324">问其他问题。</text>
<text x="587" y="523" font-size="28">嗯？</text>
<text x="230" y="1081" font-size="28">你刚才说…</text>
<text x="145" y="1186">迄今为止</text>
<text x="117" y="1223">没用过垃圾袋</text>
<text x="118" y="1259">或是床单…？</text>
<text x="507" y="1497">这种事</text>
<text x="477" y="1533">经常发生？</text>
<text x="141" y="1826">那群吸血鬼</text>
<text x="141" y="1863">为什么要来</text>
<text x="157" y="1899">袭击你？</text>
<text x="347" y="2086">以后还会</text>
<text x="304" y="2122">发生这种事吗？</text>
<text x="138" y="2318" font-size="28">嗯，对。</text>
<text x="568" y="2758" font-size="28">那…</text>
<text x="128" y="2940" font-size="28">可是那一刻，</text>
</g>
</svg></body></html>
